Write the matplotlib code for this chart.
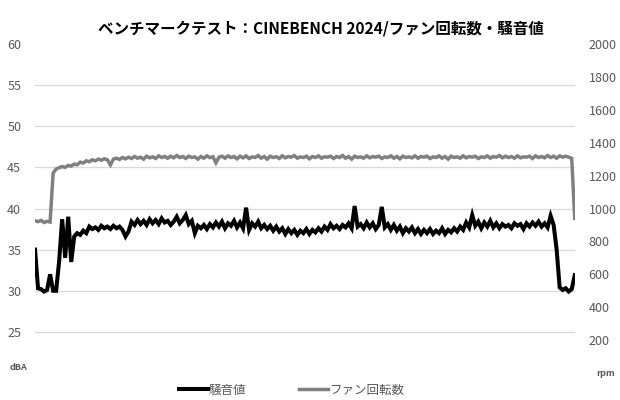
import matplotlib
matplotlib.use("Agg")
import matplotlib.pyplot as plt

plt.rcParams['font.family'] = ['Noto Sans CJK JP', 'DejaVu Sans']

title = "ベンチマークテスト：CINEBENCH 2024/ファン回転数・騒音値"
noise_label = "騒音値"
fan_label = "ファン回転数"

# 騒音値 (dBA), one sample per step
noise = [
    35.0, 30.3, 30.2, 29.9, 30.1, 32.0, 30.0, 30.0, 33.6, 38.7,
    34.0, 39.0, 33.5, 36.6, 37.0, 36.8, 37.3, 37.0, 37.8, 37.5,
    37.7, 37.4, 37.9, 37.6, 37.8, 37.5, 37.9, 37.6, 37.8, 37.4,
    36.6, 37.2, 38.4, 38.0, 38.6, 38.1, 38.5, 38.0, 38.7, 38.2,
    38.6, 38.1, 38.8, 38.3, 38.5, 38.0, 38.4, 39.0, 38.2, 38.6,
    39.2, 38.1, 38.5, 37.0, 37.9, 37.6, 38.0, 37.5, 38.1, 37.7,
    38.3, 37.8, 38.4, 37.6, 38.2, 37.9, 38.5, 37.7, 38.3, 37.6,
    40.1, 37.4, 38.2, 37.8, 38.4, 37.6, 38.0, 37.5, 37.9, 37.3,
    37.8, 37.2, 37.6, 36.9, 37.5, 37.0, 37.4, 36.8, 37.3, 37.0,
    37.5, 36.9, 37.4, 37.1, 37.6, 37.2, 37.8, 37.4, 38.1, 37.6,
    37.9, 37.5, 38.0, 37.7, 38.2, 37.6, 40.3, 37.8, 38.1, 37.6,
    38.3, 37.7, 38.2, 37.5, 38.0, 40.2, 37.7, 38.1, 37.4, 38.0,
    37.3, 37.8, 37.0, 37.6, 37.2, 37.7, 37.0, 37.5, 36.9, 37.4,
    37.0, 37.5, 36.9, 37.3, 37.0, 37.6, 36.9, 37.4, 37.1, 37.6,
    37.2, 37.8, 37.4, 38.3, 37.7, 39.2, 37.9, 38.4, 37.6, 38.3,
    37.8, 38.5, 37.7, 38.2, 37.6, 38.1, 37.8, 38.0, 37.6, 38.2,
    37.9, 38.1, 37.5, 38.2, 37.8, 38.3, 37.9, 38.4, 37.8, 38.2,
    37.7, 39.1, 38.0, 35.0, 30.4, 30.1, 30.3, 29.9, 30.2, 31.9,
]

# ファン回転数 (rpm)
fan = [
    925, 920, 928, 915, 922, 918, 1215, 1240, 1248, 1255,
    1250, 1262, 1258, 1270, 1266, 1282, 1276, 1290, 1284, 1296,
    1290, 1300, 1294, 1302, 1296, 1265, 1300, 1306, 1298, 1310,
    1302, 1312, 1304, 1316, 1306, 1312, 1300, 1318, 1308, 1314,
    1304, 1320, 1310, 1316, 1306, 1318, 1308, 1322, 1310, 1316,
    1304, 1318, 1310, 1314, 1300, 1316, 1306, 1320, 1309, 1315,
    1278, 1312, 1318, 1306, 1320, 1310, 1316, 1302, 1318, 1308,
    1320, 1304, 1314, 1310, 1322, 1306, 1316, 1300, 1318, 1310,
    1315, 1304, 1320, 1308, 1316, 1312, 1322, 1306, 1314, 1310,
    1318, 1302, 1316, 1310, 1320, 1306, 1314, 1312, 1318, 1304,
    1316, 1310, 1322, 1306, 1316, 1300, 1318, 1310, 1314, 1306,
    1320, 1308, 1316, 1312, 1318, 1304, 1314, 1310, 1320, 1306,
    1316, 1302, 1318, 1310, 1314, 1308, 1320, 1306, 1316, 1312,
    1318, 1304, 1314, 1310, 1320, 1306, 1316, 1300, 1318, 1310,
    1314, 1306, 1320, 1308, 1316, 1312, 1318, 1304, 1314, 1310,
    1320, 1306, 1316, 1312, 1322, 1308, 1318, 1310, 1316, 1306,
    1320, 1308, 1314, 1312, 1318, 1304, 1320, 1310, 1316, 1308,
    1322, 1310, 1318, 1306, 1320, 1312, 1318, 1312, 1305, 940,
]

left_ticks = [20, 25, 30, 35, 40, 45, 50, 55, 60]
right_ticks = [0, 200, 400, 600, 800, 1000, 1200, 1400, 1600, 1800, 2000]

fig = plt.figure(figsize=(6.2, 4.0), dpi=100)
ax = fig.add_axes([0.0565, 0.0675, 0.8705, 0.8225])
ax2 = ax.twinx()

x = list(range(len(noise)))
l1, = ax.plot(x, noise, color='black', lw=2.9, solid_joinstyle='miter', zorder=3)
l2, = ax2.plot(x, fan, color='#808080', lw=2.5, solid_joinstyle='miter', zorder=2)

ax.set_xlim(0, len(noise) - 1)
ax.set_ylim(20, 60)
ax2.set_ylim(0, 2000)

for v in left_ticks[1:-1]:
    ax.axhline(v, color='#d9d9d9', lw=0.9, zorder=0)

ax.set_yticks(left_ticks)
ax.set_yticklabels([''] + [str(v) for v in left_ticks[1:]])
ax2.set_yticks(right_ticks)
ax2.set_yticklabels([''] + [str(v) for v in right_ticks[1:]])
ax.set_xticks([])

for a in (ax, ax2):
    for s in a.spines.values():
        s.set_visible(False)
    a.tick_params(axis='y', length=0, labelsize=9, labelcolor='#595959')
ax.tick_params(axis='y', pad=10)
ax2.tick_params(axis='y', pad=10)

fig.text(10 / 620, 1 - 368 / 400, "dBA", fontsize=6.5, fontweight='bold',
         color='#595959', va='center', ha='left')
fig.text(596 / 620, 1 - 373 / 400, "rpm", fontsize=6.5, fontweight='bold',
         color='#595959', va='center', ha='left')

fig.text(0.517, 1 - 28 / 400, title, fontsize=11.2, fontweight='bold',
         ha='center', va='center', color='black')

fig.legend([l1, l2], [noise_label, fan_label], loc='center',
           bbox_to_anchor=(0.47, 1 - 390 / 400), ncol=2, frameon=False,
           fontsize=9, handlelength=2.3, handletextpad=0.1, columnspacing=4.2,
           labelcolor='#595959')

fig.savefig("out.png", dpi=100)
